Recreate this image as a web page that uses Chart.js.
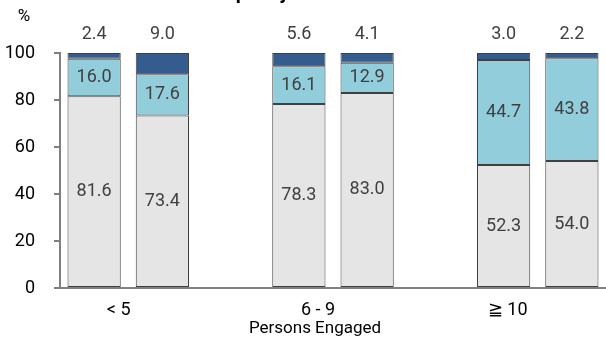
<!DOCTYPE html>
<html>
<head>
<meta charset="utf-8">
<script src="https://cdn.jsdelivr.net/npm/chart.js@4"></script>
<style>
body { margin: 0; background: #fff; }
#wrap { width: 606px; height: 344px; overflow: hidden; position: relative; }
#chart { position: absolute; left: 0; top: -20px; }
</style>
</head>
<body>
<div id="wrap"><canvas id="chart" width="606" height="364"></canvas></div>
<script>
// size groups and the shares (%) of the two bars in each group
const sizeGroups = ['< 5', '6 - 9', '≧ 10'];
const lowerShare = [81.6, 73.4, 78.3, 83.0, 52.3, 54.0];
const middleShare = [16.0, 17.6, 16.1, 12.9, 44.7, 43.8];
const topShare = [2.4, 9.0, 5.6, 4.1, 3.0, 2.2];
const yTicks = [0, 20, 40, 60, 80, 100];

const FONT = "Roboto, 'Liberation Sans', sans-serif";
const labelPos = [0.86, 3.78, 6.56];

// two bars per group, then an empty slot between groups
function withGaps(arr) {
	const out = [];
	arr.forEach((v, i) => {
		out.push(v);
		if (i % 2 === 1 && i < arr.length - 1) out.push(null);
	});
	return out;
}
const slots = withGaps(lowerShare).map((v, i) => 'slot' + i);

const textPlugin = {
	id: 'texts',
	afterDatasetsDraw(chart) {
		const ctx = chart.ctx;
		const area = chart.chartArea;
		ctx.save();
		ctx.fillStyle = '#404040';
		ctx.textAlign = 'center';
		ctx.textBaseline = 'middle';
		ctx.font = '18px ' + FONT;
		[0, 1].forEach(d => {
			chart.getDatasetMeta(d).data.forEach((el, i) => {
				const v = chart.data.datasets[d].data[i];
				if (v == null) return;
				ctx.fillText(v.toFixed(1), el.x, (el.y + el.base) / 2);
			});
		});
		chart.getDatasetMeta(2).data.forEach((el, i) => {
			const v = chart.data.datasets[2].data[i];
			if (v == null) return;
			ctx.fillText(v.toFixed(1), el.x, el.y - 19);
		});

		ctx.fillStyle = '#000';
		ctx.font = '17px ' + FONT;
		ctx.fillText('%', 24, 37);
		ctx.font = '17px ' + FONT;
		ctx.textBaseline = 'alphabetic';
		ctx.fillText('Persons Engaged', 315, area.bottom + 45);
		ctx.font = 'bold 20px ' + FONT;
		ctx.fillText('Structure of Occupancy Rate of Establishments', 290, 19);
		ctx.restore();
	}
};

const config = {
	type: 'bar',
	data: {
		labels: slots,
		datasets: [{
			data: withGaps(lowerShare),
			backgroundColor: '#e5e5e5',
		}, {
			data: withGaps(middleShare),
			backgroundColor: '#92cddc',
		}, {
			data: withGaps(topShare),
			backgroundColor: '#345d8d',
		}]
	},
	options: {
		responsive: false,
		animation: false,
		layout: { padding: { top: 73, left: 0, right: 0, bottom: 0 } },
		datasets: {
			bar: {
				borderColor: '#404040',
				borderWidth: 1,
				borderSkipped: false,
				barPercentage: 0.78,
				categoryPercentage: 1,
			}
		},
		plugins: {
			legend: { display: false },
			tooltip: { enabled: false },
			title: { display: false },
		},
		scales: {
			x: {
				type: 'category',
				stacked: true,
				offset: true,
				grid: { display: false, drawTicks: false },
				border: { color: '#808080', width: 2 },
				ticks: { display: false },
				afterFit: s => { s.height = 0; },
			},
			x2: {
				type: 'linear',
				position: 'bottom',
				min: 0,
				max: 8,
				offset: false,
				grid: { display: false, drawTicks: false, offset: false },
				border: { display: false },
				afterBuildTicks: axis => { axis.ticks = labelPos.map(v => ({ value: v })); },
				ticks: {
					callback: (v, i) => sizeGroups[i],
					font: { family: FONT, size: 18 },
					color: '#000',
					padding: 12,
					maxRotation: 0,
					autoSkip: false,
				},
				afterFit: s => { s.height = 56; },
			},
			y: {
				stacked: true,
				min: 0,
				max: 100,
				afterBuildTicks: axis => { axis.ticks = yTicks.map(v => ({ value: v })); },
				grid: { drawOnChartArea: false, drawTicks: true, tickLength: 6, color: '#808080', lineWidth: 2 },
				border: { color: '#808080', width: 2 },
				ticks: {
					font: { family: FONT, size: 18 },
					color: '#000',
					padding: 19,
				},
				afterFit: s => { s.width = 60; },
			}
		}
	},
	plugins: [textPlugin],
};

const chartCtx = document.getElementById('chart');
const chart = new Chart(chartCtx, config);
</script>
</body>
</html>
